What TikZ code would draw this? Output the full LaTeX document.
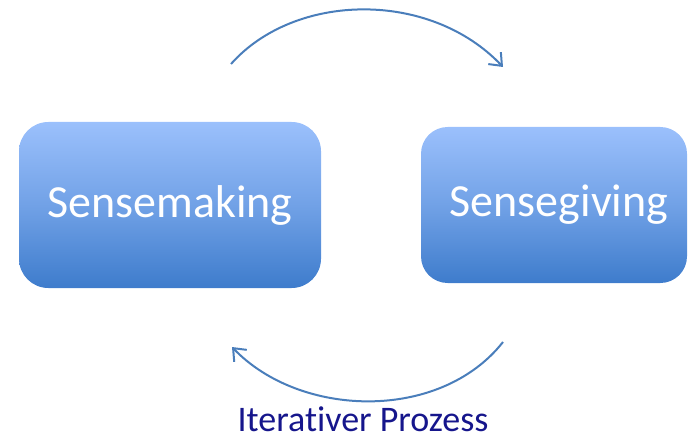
\documentclass[tikz,border=0pt]{standalone}
\usepackage{fontspec}
\setmainfont[Ligatures=NoCommon]{Carlito}
\usetikzlibrary{arrows.meta}

\definecolor{boxtop}{RGB}{155,192,252}
\definecolor{boxbot}{RGB}{62,124,204}
\definecolor{arccol}{RGB}{74,126,187}
\definecolor{textnavy}{RGB}{22,22,140}

\tikzset{every picture/.style={line width=0.75pt}}
\tikzset{
  sensebox/.style={rounded corners=22pt, top color=boxtop, bottom color=boxbot,
    middle color=boxtop!55!boxbot, draw=none},
  boxlabel/.style={inner sep=0pt, text=white, font=\fontsize{34.5}{41}\selectfont},
  cyclearc/.style={draw=arccol, line width=1.5pt, -{Straight Barb[length=8pt,width=13pt,line width=1.5pt]}}
}

\begin{document}
\begin{tikzpicture}[x=0.75pt,y=0.75pt,yscale=-1,xscale=1]
		\useasboundingbox (0,0) rectangle (688,438);
		
		%Rounded Rect [id:making] 
		\path [sensebox] (19,122) rectangle (321,288) ;
		\node (making) at (170,205) [boxlabel] {Sensemaking};
		%Rounded Rect [id:giving] 
		\path [sensebox, rounded corners=20pt] (421,127) rectangle (687,283) ;
		\node (giving) at (559,205) [boxlabel] {Sensegiving};
		
		% arc ends
		\coordinate (topL) at (231,64);
		\coordinate (topR) at (503,67);
		\coordinate (botR) at (503,342);
		\coordinate (botL) at (232,347);
		
		%Curve Lines [id:toparc] 
		\draw [cyclearc] (topL) .. controls (295,-8) and (430,-10) .. (topR) ;
		%Curve Lines [id:botarc] 
		\draw [cyclearc] (botR) .. controls (440,422) and (300,418) .. (botL) ;
		
		% Text Node
		\node (loop) at (363,431) [anchor=base, inner sep=0pt, text=textnavy, font=\fontsize{27}{32}\selectfont] {Iterativer Prozess};
	\end{tikzpicture}
\end{document}
